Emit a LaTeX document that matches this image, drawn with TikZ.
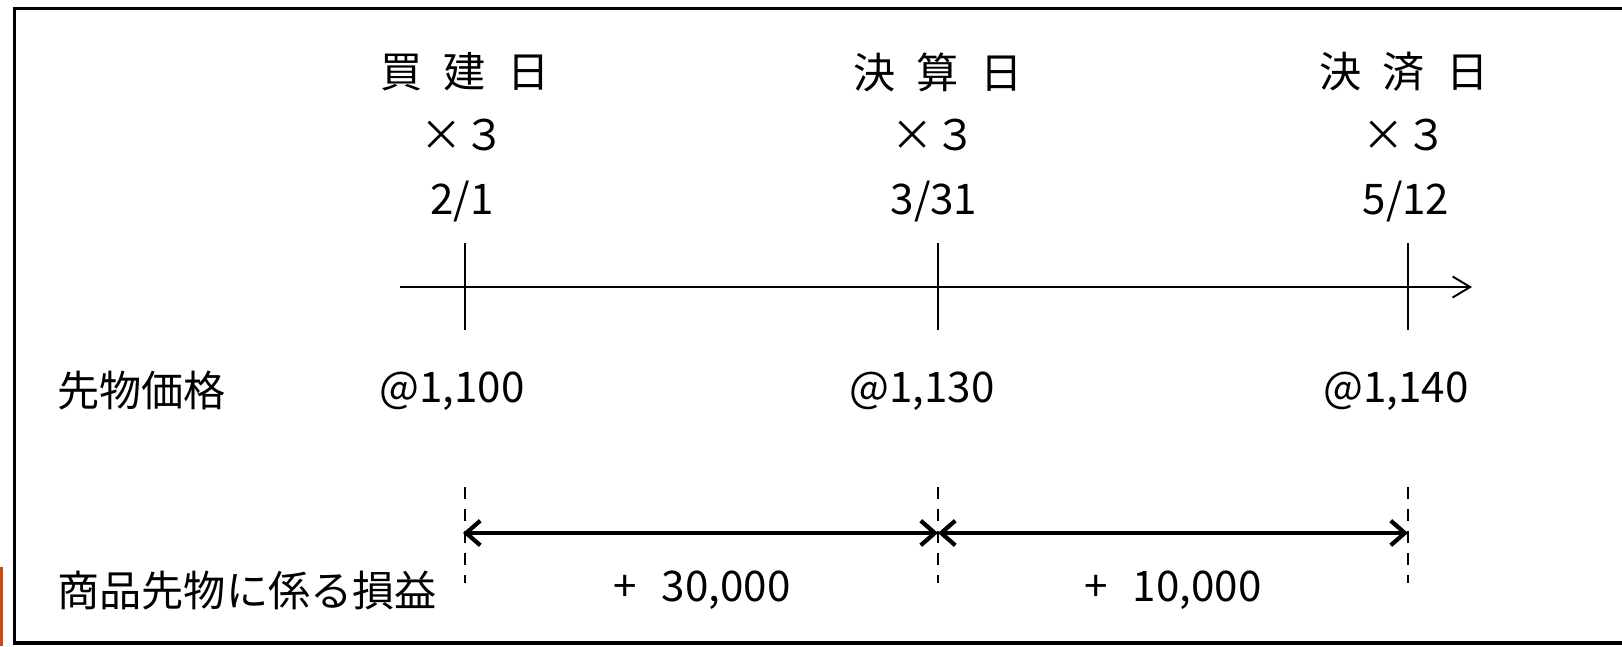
\documentclass[tikz,border=0pt]{standalone}
\usepackage{fontspec}
\setmainfont{Noto Sans CJK JP}
\usetikzlibrary{arrows.meta}
\definecolor{edgeorange}{RGB}{205,72,22}
\newcommand{\gp}{\hspace{.5em}}

\tikzset{
  framebox/.style={line width=2pt},
  axisline/.style={line width=1.1pt, -{Straight Barb[length=10pt, width=12pt]}},
  tickline/.style={line width=1.1pt},
  guideline/.style={line width=1.1pt, dash pattern=on 6.8pt off 5.7pt},
  spanline/.style={line width=2.4pt, {Straight Barb[length=8pt, width=14pt]}-{Straight Barb[length=8pt, width=14pt]}},
  lbl/.style={inner sep=0pt}
}

\begin{document}
\begin{tikzpicture}[x=0.02cm, y=-0.02cm, font=\fontsize{24}{28}\selectfont]
    \useasboundingbox (0,0) rectangle (1622,646);
    \clip (0,0) rectangle (1622,646);
    \draw[framebox] (14.5,8.5) rectangle (1660,643);
    \fill[edgeorange] (0,567) rectangle (3,646);

    % time axis
    \coordinate (pbuy) at (465,287);
    \coordinate (pclose) at (938,287);
    \coordinate (psettle) at (1408,287);
    \coordinate (axstart) at (400,287);
    \coordinate (axend) at (1472,287);
    \draw[axisline] (axstart) -- (axend);
    \draw[tickline] (pbuy) ++(0,-44) -- ++(0,87);
    \draw[tickline] (pclose) ++(0,-44) -- ++(0,87);
    \draw[tickline] (psettle) ++(0,-44) -- ++(0,87);

    % headings
    \node[lbl] (hbuy) at (465,72) {買\gp 建\gp 日};
    \node[lbl] (hclose) at (938,72) {決\gp 算\gp 日};
    \node[lbl] (hsettle) at (1404,72) {決\gp 済\gp 日};
    \node[lbl] (qbuy) at (463,135) {×３};
    \node[lbl] (qclose) at (934,135) {×３};
    \node[lbl] (qsettle) at (1405,135) {×３};
    \node[lbl] (dbuy) at (462,202) {2/1};
    \node[lbl] (dclose) at (934,202) {3/31};
    \node[lbl] (dsettle) at (1406,202) {5/12};

    % prices
    \node[lbl, anchor=west] (pricelbl) at (57,391) {先物価格};
    \node[lbl] (prbuy) at (452,391) {@1,100};
    \node[lbl] (prclose) at (922,391) {@1,130};
    \node[lbl] (prsettle) at (1396,391) {@1,140};

    % gains
    \draw[guideline] (465,487) -- (465,583);
    \draw[guideline] (938,487) -- (938,583);
    \draw[guideline] (1408,487) -- (1408,583);
    \coordinate (sbuy) at (463,533);
    \coordinate (sclose) at (938,533);
    \coordinate (ssettle) at (1408,533);
    \draw[spanline] (sbuy) -- (sclose);
    \draw[spanline] (sclose) -- (ssettle);
    \node[lbl, anchor=west] (gainlbl) at (57,591) {商品先物に係る損益};
    \node[lbl] (gfirst) at (702,590) {+\hspace{.6em}30,000};
    \node[lbl] (gsecond) at (1173,590) {+\hspace{.6em}10,000};
  \end{tikzpicture}
\end{document}
